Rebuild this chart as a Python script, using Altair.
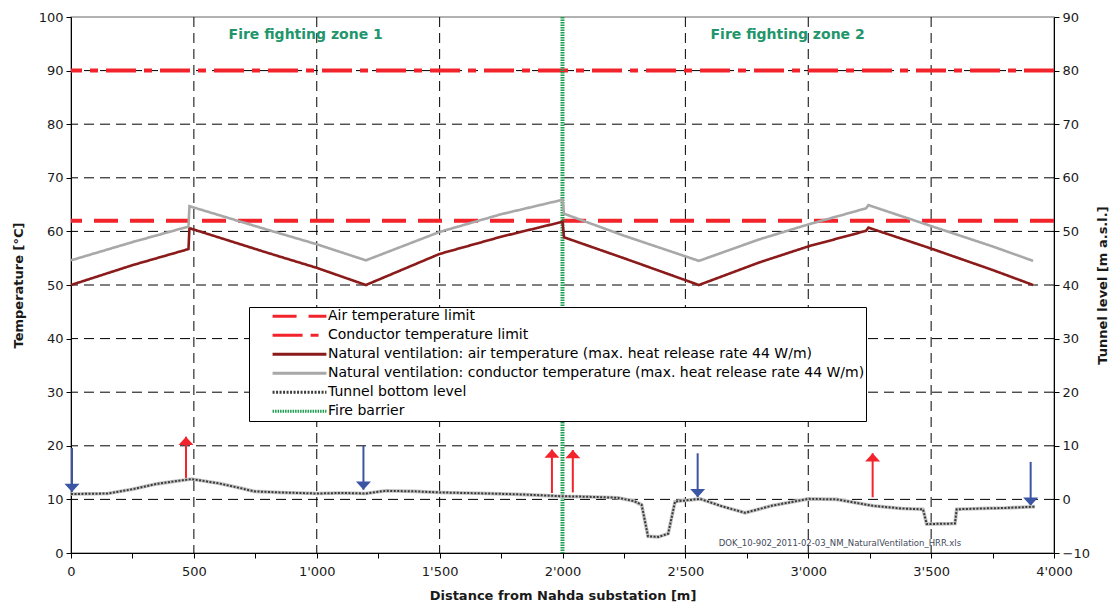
import altair as alt
import pandas as pd

# ---------------- data ----------------
series_names = [
    "Air temperature limit",
    "Conductor temperature limit",
    "Natural ventilation: air temperature (max. heat release rate 44 W/m)",
    "Natural ventilation: conductor temperature (max. heat release rate 44 W/m)",
    "Tunnel bottom level",
    "Fire barrier",
]
series_colors = ["#f2232b", "#f2232b", "#8b1a1a", "#a8a8a8", "#3a3a3a", "#1e9e50"]
series_dashes = [[24, 12], [30, 8, 8, 8], [1, 0], [1, 0], [2, 1.5], [1.5, 1]]

limit_values = [62, 90]  # air limit, conductor limit (°C)

temp_x = [0, 250, 478, 482, 800, 1000, 1200, 1500, 1750, 2000, 2006, 2250,
          2555, 2800, 3000, 3235, 3245, 3500, 3750, 3915]
air_temp = [50.0, 53.7, 56.7, 60.6, 56.0, 53.2, 50.0, 55.8, 59.0, 61.8, 58.9, 55.0,
            50.0, 54.2, 57.2, 60.1, 60.7, 56.8, 52.8, 50.0]
cond_temp = [54.6, 58.0, 60.9, 64.7, 60.3, 57.6, 54.6, 59.9, 63.2, 65.9, 63.3, 59.2,
             54.5, 58.5, 61.3, 64.3, 64.9, 61.0, 57.2, 54.5]

tunnel_x = [0, 150, 250, 350, 490, 600, 680, 745, 850, 1000, 1100, 1200, 1280, 1400,
            1500, 1700, 1850, 1990, 2100, 2225, 2290, 2322, 2348, 2390, 2430, 2458,
            2560, 2650, 2743, 2850, 3000, 3116, 3263, 3380, 3467, 3482, 3597, 3604,
            3700, 3800, 3923]
tunnel_level = [1.0, 1.1, 1.9, 2.9, 3.8, 3.0, 2.2, 1.5, 1.3, 1.1, 1.2, 1.1, 1.6, 1.5,
                1.3, 1.1, 0.9, 0.6, 0.5, 0.3, -0.3, -1.0, -6.9, -7.0, -6.4, -0.4,
                0.1, -1.3, -2.5, -1.2, 0.1, 0.0, -1.2, -1.7, -1.85, -4.6, -4.5, -1.85,
                -1.7, -1.6, -1.35]

barrier_x = [2000]

grid_x = [500, 1000, 1500, 2500, 3000, 3500]
grid_y = [10, 20, 30, 40, 50, 60, 70, 80, 90]
x_tick_values = list(range(0, 4001, 250))
y_left_ticks = list(range(0, 101, 10))
y_right_ticks = list(range(-10, 91, 10))

# arrows: x position, tail value, tip value (°C scale)
red_arrow_x = [468, 1957, 2042, 3262]
red_arrow_tail = [14.0, 11.2, 11.3, 10.4]
red_arrow_tip = [21.7, 19.3, 19.2, 18.6]
blue_arrow_x = [4, 1190, 2550, 3905]
blue_arrow_tail = [19.6, 20.0, 18.6, 17.0]
blue_arrow_tip = [11.4, 11.8, 10.4, 8.8]

zone_labels = ["Fire fighting zone 1", "Fire fighting zone 2"]
zone_x = [955, 2916]
zone_y = [96.6, 96.6]

note_text = ["DOK_10-902_2011-02-03_NM_NaturalVentilation_HRR.xls"]
note_x = [3129]
note_y = [1.9]

# ---------------- tables ----------------
n = len(temp_x)
temps = pd.DataFrame({
    "x": temp_x + temp_x,
    "t": air_temp + cond_temp,
    "series": [series_names[2]] * n + [series_names[3]] * n,
    "idx": list(range(n)) * 2,
})
limits = pd.DataFrame({"val": limit_values, "series": series_names[:2]})
barrier = pd.DataFrame({"x": barrier_x, "series": [series_names[5]]})
tunnel = pd.DataFrame({"x": tunnel_x, "lvl": tunnel_level,
                       "series": [series_names[4]] * len(tunnel_x),
                       "idx": list(range(len(tunnel_x)))})
red_arrows = pd.DataFrame({"x": red_arrow_x, "y0": red_arrow_tail, "y1": red_arrow_tip})
blue_arrows = pd.DataFrame({"x": blue_arrow_x, "y0": blue_arrow_tail, "y1": blue_arrow_tip})
zones = pd.DataFrame({"x": zone_x, "y": zone_y, "label": zone_labels})
note = pd.DataFrame({"x": note_x, "y": note_y, "label": note_text})
gx = pd.DataFrame({"x": grid_x})
gy = pd.DataFrame({"y": grid_y})

# ---------------- scales / axes ----------------
FONT = "DejaVu Sans"
TXT = "#1a1a1a"
xscale = alt.Scale(domain=[0, 4000], nice=False, zero=False)
yscale_left = alt.Scale(domain=[0, 100], nice=False)
yscale_right = alt.Scale(domain=[-10, 90], nice=False, zero=False)

xaxis = alt.Axis(
    values=x_tick_values,
    labelExpr="datum.value % 500 == 0 ? replace(format(datum.value, ','), ',', \"'\") : ''",
    grid=False, tickSize=5, tickColor="black", domainColor="black",
    labelFlush=False, labelFontSize=13, labelFont=FONT, labelColor=TXT,
    labelPadding=7, title="Distance from Nahda substation [m]",
    titleFont=FONT, titleFontSize=13, titleFontWeight="bold", titleColor=TXT,
    titlePadding=11,
)
yaxis_left = alt.Axis(
    values=y_left_ticks, grid=False, tickSize=5, tickColor="black", domainColor="black",
    labelFontSize=13, labelFont=FONT, labelColor=TXT, labelPadding=3,
    title="Temperature [°C]", titleFont=FONT, titleFontSize=13, titleFontWeight="bold",
    titleColor=TXT, titlePadding=13,
)
yaxis_right = alt.Axis(
    orient="right", values=y_right_ticks, grid=False, tickSize=5, tickColor="black",
    domainColor="black", labelFontSize=13, labelFont=FONT, labelColor=TXT,
    labelPadding=3, title="Tunnel level [m a.s.l.]", titleFont=FONT, titleFontSize=13,
    titleFontWeight="bold", titleColor=TXT, titlePadding=20, titleAngle=270,
)

X = alt.X("x:Q", scale=xscale, axis=xaxis)


def YL(field):
    return alt.Y(f"{field}:Q", scale=yscale_left, axis=yaxis_left)


legend = alt.Legend(
    orient="none", legendX=178, legendY=290, title=None,
    symbolType="stroke", symbolSize=2900, symbolStrokeWidth=3,
    symbolOffset=21, clipHeight=16.7, rowPadding=2, labelOffset=0,
    labelFont=FONT, labelFontSize=14, labelColor="black", labelLimit=0,
    strokeColor="black", fillColor="white", padding=1,
)
COLOR = alt.Color("series:N", scale=alt.Scale(domain=series_names, range=series_colors),
                  legend=legend)
DASH = alt.StrokeDash("series:N", scale=alt.Scale(domain=series_names, range=series_dashes),
                      legend=legend)

# ---------------- layers ----------------
xgrid = alt.Chart(gx).mark_rule(color="black", strokeWidth=1, strokeDash=[10, 6]).encode(x=X)
ygrid = alt.Chart(gy).mark_rule(color="black", strokeWidth=1, strokeDash=[10, 6]).encode(y=YL("y"))

limit_rules = alt.Chart(limits).mark_rule(strokeWidth=4).encode(
    y=YL("val"), color=COLOR, strokeDash=DASH)

barrier_rule = alt.Chart(barrier).mark_rule(strokeWidth=4).encode(
    x=X, color=COLOR, strokeDash=DASH)

temp_lines = alt.Chart(temps).mark_line(strokeWidth=2.6).encode(
    x=X, y=YL("t"), color=COLOR, strokeDash=DASH, order="idx:Q")

up_head = "M0,0L1,1.1L-1,1.1Z"
down_head = "M0,0L1,-1.1L-1,-1.1Z"

red_shafts = alt.Chart(red_arrows).mark_rule(color="#f2232b", strokeWidth=2).encode(
    x=X, y=YL("y0"), y2="y1")
red_heads = alt.Chart(red_arrows).mark_point(
    shape=up_head, filled=True, size=225, color="#f2232b", opacity=1).encode(x=X, y=YL("y1"))
blue_shafts = alt.Chart(blue_arrows).mark_rule(color="#3a55a4", strokeWidth=2).encode(
    x=X, y=YL("y0"), y2="y1")
blue_heads = alt.Chart(blue_arrows).mark_point(
    shape=down_head, filled=True, size=225, color="#3a55a4", opacity=1).encode(x=X, y=YL("y1"))

zone_text = alt.Chart(zones).mark_text(
    font=FONT, fontSize=14, fontWeight="bold", color="#22956b").encode(
    x=X, y=YL("y"), text="label:N")
note_mark = alt.Chart(note).mark_text(
    font=FONT, fontSize=8.5, color="#444a5a").encode(x=X, y=YL("y"), text="label:N")

left = alt.layer(xgrid, ygrid, limit_rules, barrier_rule, temp_lines,
                 red_shafts, blue_shafts, red_heads, blue_heads, zone_text, note_mark)

YR = alt.Y("lvl:Q", scale=yscale_right, axis=yaxis_right)
tunnel_base = alt.Chart(tunnel).mark_line(color="#c2c2c2", strokeWidth=3.6).encode(
    x=X, y=YR, order="idx:Q")
tunnel_pat = alt.Chart(tunnel).mark_line(strokeWidth=2).encode(
    x=X, y=YR, color=COLOR, strokeDash=DASH, order="idx:Q")
right = alt.layer(tunnel_base, tunnel_pat)

chart = alt.layer(left, right).resolve_scale(y="independent").properties(
    width=983, height=536,
    autosize=alt.AutoSizeParams(type="none"),
    padding={"left": 71, "top": 17, "right": 66, "bottom": 54},
    background="white",
).configure_view(stroke="#999999", strokeWidth=1.5)

chart.save("out.html", embed_options={"renderer": "svg", "actions": False})
